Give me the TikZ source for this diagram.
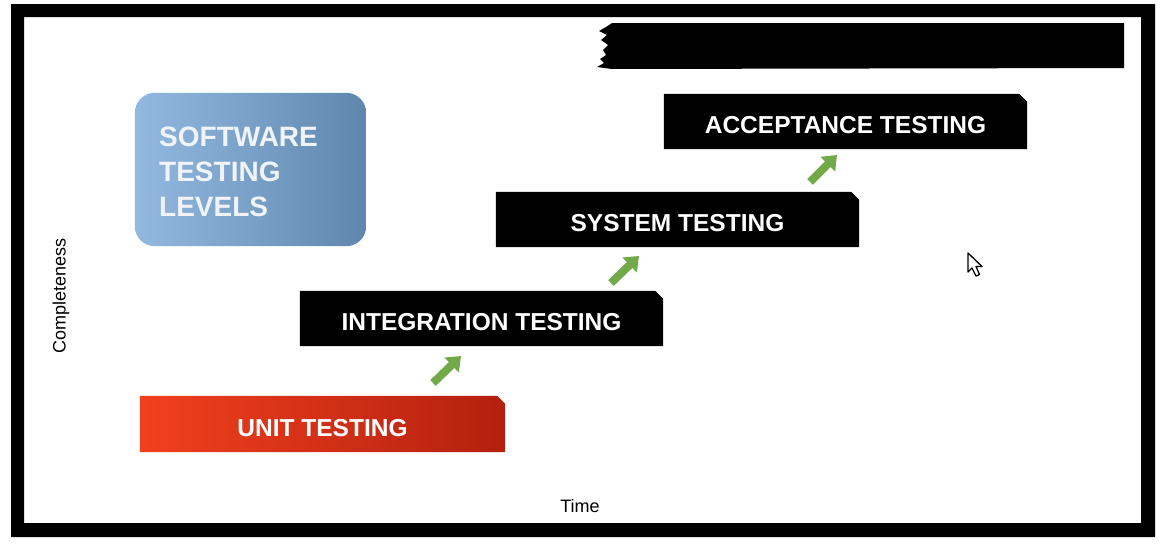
\documentclass[tikz,border=0pt]{standalone}
\usepackage{fontspec}
\setmainfont{Liberation Sans}
\usetikzlibrary{arrows.meta,backgrounds}
\definecolor{redA}{HTML}{F2401E}
\definecolor{redB}{HTML}{B3200F}
\definecolor{blueA}{HTML}{93B9E0}
\definecolor{blueB}{HTML}{5F87AE}
\definecolor{arrowgreen}{HTML}{72AA4A}
\definecolor{lvltext}{HTML}{F0F4F8}
\tikzset{
  levelbox/.style={minimum width=363pt, minimum height=55pt, inner sep=0pt, text=white,
    text height=24.5pt, text depth=0pt,
    font=\bfseries\fontsize{24.5}{24.5}\selectfont},
  stepup/.style={draw=arrowgreen, line width=8pt, -{Triangle[width=20pt,length=13pt]}},
  axislabel/.style={font=\fontsize{18}{18}\selectfont, text=black, inner sep=0pt}
}
\newcommand{\chamferfill}[2]{%
  \path[#2] (#1.south west) -- (#1.north west) -- ([xshift=-8pt]#1.north east)
    -- ([yshift=-8pt]#1.north east) -- (#1.south east) -- cycle;}
\begin{document}
\begin{tikzpicture}[x=1pt,y=-1pt]
\useasboundingbox (0,0) rectangle (1172,544);
\begin{scope}[on background layer]
  \fill[white] (0,0) rectangle (1172,544);
\end{scope}
% frame
\fill[black,even odd rule] (11,4) rectangle (1155,537) (24,17) rectangle (1141,523);
% redaction bar
\fill[black] (612,23) -- (1124,23) -- (1124,68) -- (612,69) -- (597,67) -- (604,63)
  -- (600,59) -- (606,55) -- (603,50) -- (608,45) -- (601,40) -- (607,35) -- (599,31)
  -- (606,27) -- cycle;
% title box
\node[minimum width=231pt, minimum height=153pt, inner sep=0pt] (title) at (250.5,169.5) {};
\begin{scope}[on background layer]
  \shade[left color=blueA, right color=blueB, rounded corners=20pt]
    (title.south west) rectangle (title.north east);
\end{scope}
\node[anchor=west, align=left, inner sep=0pt, text=lvltext,
  font=\bfseries\fontsize{28}{35}\selectfont] (titletext) at (159,172)
  {SOFTWARE\\TESTING\\LEVELS};
% levels
\node[levelbox, minimum width=365pt, minimum height=56pt] (unit) at (322.5,424) {UNIT TESTING};
\node[levelbox] (integ) at (481.5,318.5) {INTEGRATION TESTING};
\node[levelbox] (system) at (677.5,219.5) {SYSTEM TESTING};
\node[levelbox] (accept) at (845.5,121.5) {ACCEPTANCE TESTING};
\begin{scope}[on background layer]
  \chamferfill{unit}{left color=redA, right color=redB}
  \chamferfill{integ}{fill=black}
  \chamferfill{system}{fill=black}
  \chamferfill{accept}{fill=black}
\end{scope}
% step arrows
\coordinate (a1s) at (433,383); \coordinate (a1e) at (461,356);
\coordinate (a2s) at (611,283); \coordinate (a2e) at (639,256);
\coordinate (a3s) at (810,182); \coordinate (a3e) at (837,155);
\draw[stepup] (a1s) -- (a1e);
\draw[stepup] (a2s) -- (a2e);
\draw[stepup] (a3s) -- (a3e);
% axis labels
\node[axislabel, rotate=90] (ylab) at (61,296) {Completeness};
\node[axislabel] (xlab) at (580,506) {Time};
% mouse cursor
\draw[fill=white, line width=1.3pt, line join=round] (968,253) -- (968,272) -- (972,268)
  -- (976,276) -- (979.5,274.5) -- (976,266.5) -- (982,266.5) -- cycle;
\end{tikzpicture}
\end{document}
